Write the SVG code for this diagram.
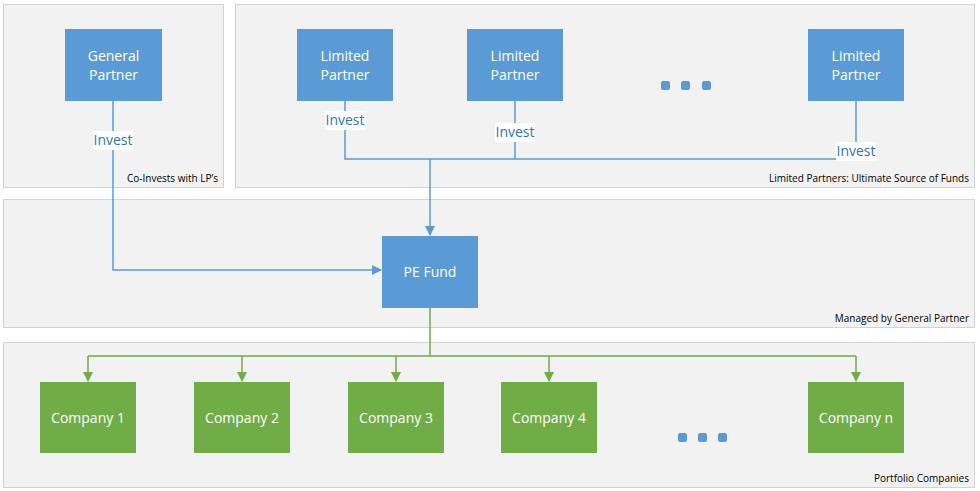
<svg xmlns="http://www.w3.org/2000/svg" width="980" height="491" viewBox="0 0 980 491">
<defs>
<style>
.panel{fill:#F2F2F2;stroke:#D3D3D3;stroke-width:1}
.b{fill:#5B9BD5}
.g{fill:#70AD47}
.t{font-family:"Open Sans","Liberation Sans",sans-serif;font-size:14px;fill:#fff;text-anchor:middle}
.pl{font-family:"Open Sans","Liberation Sans",sans-serif;font-size:10px;fill:#000;text-anchor:end}
.lab{font-family:"Open Sans","Liberation Sans",sans-serif;font-size:14px;fill:#2E75B6;text-anchor:middle}
.cb{fill:none;stroke:#5B9BD5;stroke-width:1.5}
.cg{fill:none;stroke:#70AD47;stroke-width:1.5}
</style>
<marker id="ab" markerWidth="10" markerHeight="10" refX="9" refY="5" orient="auto" markerUnits="userSpaceOnUse"><path d="M0,0 L10,5 L0,10 z" fill="#5B9BD5"/></marker>
<marker id="ag" markerWidth="10" markerHeight="10" refX="9" refY="5" orient="auto" markerUnits="userSpaceOnUse"><path d="M0,0 L10,5 L0,10 z" fill="#70AD47"/></marker>
</defs>
<rect width="980" height="491" fill="#fff"/>
<g id="panels">
<rect class="panel" x="3.5" y="4.5" width="220" height="183"/>
<rect class="panel" x="235.5" y="4.5" width="739" height="183"/>
<rect class="panel" x="3.5" y="199.5" width="971" height="128"/>
<rect class="panel" x="3.5" y="342.5" width="971" height="145"/>
<text class="pl" x="218" y="182">Co-Invests with LP’s</text>
<text class="pl" x="969" y="182">Limited Partners:  Ultimate Source of Funds</text>
<text class="pl" x="969" y="322">Managed by General Partner</text>
<text class="pl" x="969" y="482">Portfolio Companies</text>
</g>
<g id="connectors">
<path class="cb" d="M113,101 V270 H381" marker-end="url(#ab)"/>
<path class="cb" d="M345,101 V159 H856 V101 M515,101 V159"/>
<path class="cb" d="M430,159 V235" marker-end="url(#ab)"/>
<path class="cg" d="M430,308 V356 M88,356 H856"/>
<path class="cg" d="M88,356 V381" marker-end="url(#ag)"/>
<path class="cg" d="M242,356 V381" marker-end="url(#ag)"/>
<path class="cg" d="M396,356 V381" marker-end="url(#ag)"/>
<path class="cg" d="M549,356 V381" marker-end="url(#ag)"/>
<path class="cg" d="M856,356 V381" marker-end="url(#ag)"/>
<rect x="93" y="131" width="40" height="19" fill="#fff"/><text class="lab" x="113" y="145">Invest</text>
<rect x="325" y="111" width="40" height="19" fill="#fff"/><text class="lab" x="345" y="125">Invest</text>
<rect x="495" y="123" width="40" height="19" fill="#fff"/><text class="lab" x="515" y="137">Invest</text>
<rect x="836" y="142" width="40" height="19" fill="#fff"/><text class="lab" x="856" y="156">Invest</text>
</g>
<g id="gp"><rect class="b" x="65" y="29" width="97" height="72"/><text class="t" x="113.5" y="61">General</text><text class="t" x="113.5" y="80">Partner</text></g>
<g id="lp1"><rect class="b" x="297" y="29" width="96" height="72"/><text class="t" x="345" y="61">Limited</text><text class="t" x="345" y="80">Partner</text></g>
<g id="lp2"><rect class="b" x="467" y="29" width="96" height="72"/><text class="t" x="515" y="61">Limited</text><text class="t" x="515" y="80">Partner</text></g>
<g id="lp3"><rect class="b" x="808" y="29" width="96" height="72"/><text class="t" x="856" y="61">Limited</text><text class="t" x="856" y="80">Partner</text></g>
<g id="lpdots" fill="#5B9BD5"><rect x="661" y="81" width="9" height="9" rx="2"/><rect x="681" y="81" width="9" height="9" rx="2"/><rect x="702" y="81" width="9" height="9" rx="2"/></g>
<g id="pe"><rect class="b" x="382" y="236" width="96" height="72"/><text class="t" x="430" y="277">PE Fund</text></g>
<g id="c1"><rect class="g" x="40" y="382" width="96" height="71"/><text class="t" x="88" y="423">Company 1</text></g>
<g id="c2"><rect class="g" x="194" y="382" width="96" height="71"/><text class="t" x="242" y="423">Company 2</text></g>
<g id="c3"><rect class="g" x="348" y="382" width="96" height="71"/><text class="t" x="396" y="423">Company 3</text></g>
<g id="c4"><rect class="g" x="501" y="382" width="96" height="71"/><text class="t" x="549" y="423">Company 4</text></g>
<g id="cn"><rect class="g" x="808" y="382" width="96" height="71"/><text class="t" x="856" y="423">Company n</text></g>
<g id="cdots" fill="#5B9BD5"><rect x="678" y="433" width="9" height="9" rx="2"/><rect x="698" y="433" width="9" height="9" rx="2"/><rect x="718" y="433" width="9" height="9" rx="2"/></g>
</svg>
